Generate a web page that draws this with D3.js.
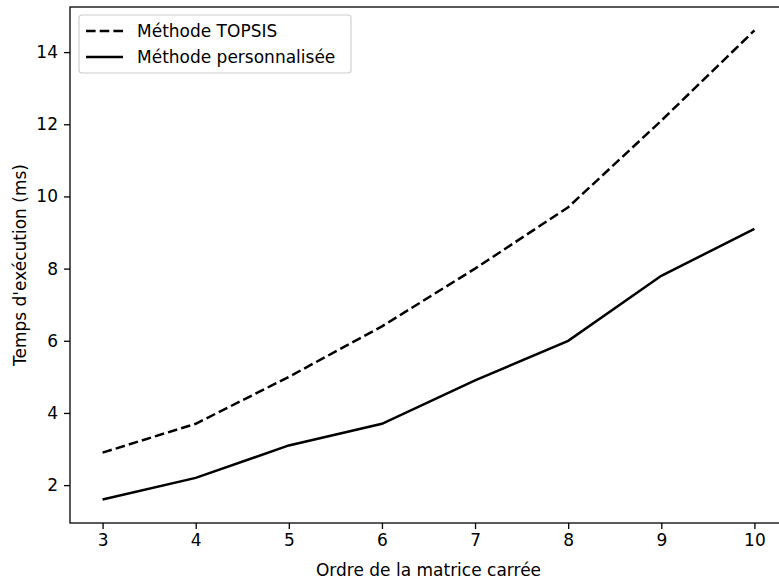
<!DOCTYPE html>
<html>
<head>
<meta charset="utf-8">
<script src="https://cdn.jsdelivr.net/npm/d3@7"></script>
<style>
  body { margin: 0; background: #fff; }
  text { font-family: "DejaVu Sans", sans-serif; fill: #000; }
</style>
</head>
<body>
<div id="chart"></div>
<script>
var svgWidth = 779;
var svgHeight = 581;

// data
var ordres = [3, 4, 5, 6, 7, 8, 9, 10];
var topsis = [2.9, 3.7, 5.0, 6.4, 8.0, 9.7, 12.1, 14.6];
var perso = [1.6, 2.2, 3.1, 3.7, 4.9, 6.0, 7.8, 9.1];
var yTicks = [2, 4, 6, 8, 10, 12, 14];
var seriesNames = ["Méthode TOPSIS", "Méthode personnalisée"];

var fontSize = "17px";
var dash = "9.6,4.1";

var margin = { top: 7, right: -8, bottom: 58, left: 70 };
var width = svgWidth - margin.left - margin.right;
var height = svgHeight - margin.top - margin.bottom;

var svg = d3.select("#chart")
  .append("svg")
  .attr("width", svgWidth)
  .attr("height", svgHeight);

var chartGroup = svg.append("g")
  .attr("transform", `translate(${margin.left}, ${margin.top})`);

// matplotlib style 5% padding
var xLinearScale = d3.scaleLinear()
  .domain([2.65, 10.35])
  .range([0, width]);

var yLinearScale = d3.scaleLinear()
  .domain([0.95, 15.25])
  .range([height, 0]);

var bottomAxis = d3.axisBottom(xLinearScale)
  .tickValues(ordres)
  .tickSize(6)
  .tickPadding(5)
  .tickFormat(d3.format("d"));

var leftAxis = d3.axisLeft(yLinearScale)
  .tickValues(yTicks)
  .tickSize(6)
  .tickPadding(6)
  .tickFormat(d3.format("d"));

var xAxis = chartGroup.append("g")
  .attr("transform", `translate(0, ${height})`)
  .call(bottomAxis);

var yAxis = chartGroup.append("g")
  .call(leftAxis);

[xAxis, yAxis].forEach(function(ax) {
  ax.attr("font-size", null).attr("font-family", null);
  ax.select(".domain").remove();
  ax.selectAll(".tick line").attr("stroke", "#000").attr("stroke-width", 1.3);
  ax.selectAll(".tick text")
    .style("font-size", fontSize)
    .attr("fill", "#000");
});

// frame
chartGroup.append("rect")
  .attr("x", 0)
  .attr("y", 0)
  .attr("width", width)
  .attr("height", height)
  .attr("fill", "none")
  .attr("stroke", "#000")
  .attr("stroke-width", 1.3);

var line = d3.line()
  .x((d, i) => xLinearScale(ordres[i]))
  .y(d => yLinearScale(d));

chartGroup.append("path")
  .datum(topsis)
  .attr("d", line)
  .attr("fill", "none")
  .attr("stroke", "#000")
  .attr("stroke-width", 2.5)
  .attr("stroke-dasharray", dash);

chartGroup.append("path")
  .datum(perso)
  .attr("d", line)
  .attr("fill", "none")
  .attr("stroke", "#000")
  .attr("stroke-width", 2.5);

// axis labels
svg.append("text")
  .attr("x", margin.left + width / 2)
  .attr("y", 576)
  .attr("text-anchor", "middle")
  .style("font-size", fontSize)
  .text("Ordre de la matrice carrée");

svg.append("text")
  .attr("transform", `translate(26, ${margin.top + height / 2}) rotate(-90)`)
  .attr("text-anchor", "middle")
  .style("font-size", fontSize)
  .text("Temps d'exécution (ms)");

// legend
var legend = svg.append("g")
  .attr("transform", "translate(79, 15)");

legend.append("rect")
  .attr("width", 272)
  .attr("height", 58)
  .attr("rx", 3)
  .attr("fill", "#fff")
  .attr("fill-opacity", 0.8)
  .attr("stroke", "#ccc")
  .attr("stroke-width", 1.1);

seriesNames.forEach(function(name, i) {
  var yy = 16 + i * 26;
  legend.append("line")
    .attr("x1", 7)
    .attr("x2", 44)
    .attr("y1", yy)
    .attr("y2", yy)
    .attr("stroke", "#000")
    .attr("stroke-width", 2.5)
    .attr("stroke-dasharray", i === 0 ? dash : null);
  legend.append("text")
    .attr("x", 58)
    .attr("y", yy)
    .attr("dy", "0.35em")
    .style("font-size", fontSize)
    .text(name);
});
</script>
</body>
</html>
